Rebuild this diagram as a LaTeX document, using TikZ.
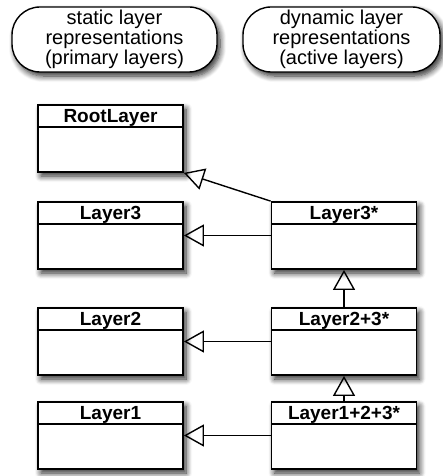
\documentclass[tikz,border=0pt]{standalone}
\usepackage{fontspec}
\setmainfont{Liberation Sans}
\usetikzlibrary{arrows.meta,shadows.blur}

\tikzset{
  layer shadow/.style={blur shadow={shadow xshift=3pt, shadow yshift=-4pt,
      shadow blur radius=6pt, shadow blur steps=8, shadow opacity=85}},
  every layerbox/.style={draw, fill=white, line width=1.8pt, inner sep=0pt,
      minimum width=145pt, minimum height=67pt, layer shadow,
      path picture={\draw[line width=1.8pt]
        ([yshift=-22pt]path picture bounding box.north west) --
        ([yshift=-22pt]path picture bounding box.north east);}},
  layername/.style={label={[font=\fontsize{19}{20}\selectfont\bfseries,
      inner sep=0pt, anchor=base, yshift=-18pt]north:#1}},
  every view/.style={draw, fill=white, line width=1.4pt, rounded corners=28pt,
      minimum height=65pt, inner sep=0pt, align=center, layer shadow,
      font=\fontsize{20}{20}\selectfont}
}

\begin{document}
\begin{tikzpicture}[x=1pt, y=-1pt, >={Triangle[open, length=20pt, width=22pt]}]
\useasboundingbox (0,0) rectangle (443,476);

\node [every view, minimum width=205pt] (static-view) at (114.5,39.5)
  {static layer\\representations\\(primary layers)};
\node [every view, minimum width=197pt] (active-view) at (341.5,39.5)
  {dynamic layer\\representations\\(active layers)};

\foreach \m/\l/\y in {root/RootLayer/138.5, 3/Layer3/235.5, 2/Layer2/341.5, 1/Layer1/435.5}
  \node [every layerbox, layername=\l] (static-\m) at (110.5,\y) {};

\foreach \m/\l/\y in {3/Layer3*/235.5, 2/Layer2+3*/341.5, 1/Layer1+2+3*/435.5}
  \node [every layerbox, layername=\l] (active-\m) at (344,\y) {};

\foreach \i in {1, 2, 3}
  \draw [->, line width=1.4pt] (active-\i) -- (static-\i);

\draw [->, line width=1.4pt] (active-3.north west) -- (static-root.south east);

\foreach \i/\j in {2/3, 1/2}
  \draw [->, line width=1.4pt] (active-\i) -- (active-\j);
\end{tikzpicture}
\end{document}
